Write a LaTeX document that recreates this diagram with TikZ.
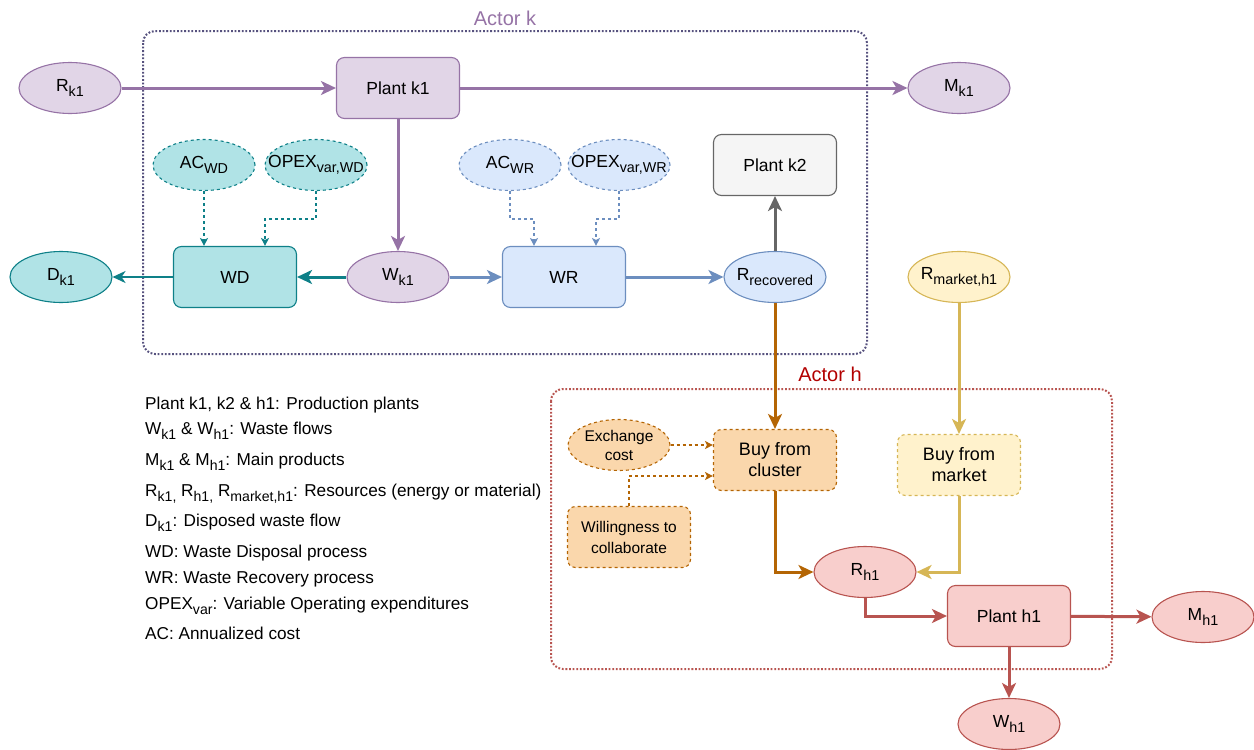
\documentclass[tikz,border=0pt]{standalone}
\usepackage{fontspec}
\setmainfont{Liberation Sans}
\usetikzlibrary{shapes.geometric,arrows.meta,calc}
\definecolor{pfill}{HTML}{E1D5E7}\definecolor{pline}{HTML}{9673A6}
\definecolor{tfill}{HTML}{B0E3E6}\definecolor{tline}{HTML}{0E8088}
\definecolor{bfill}{HTML}{DAE8FC}\definecolor{bline}{HTML}{6C8EBF}
\definecolor{gfill}{HTML}{F5F5F5}\definecolor{gline}{HTML}{666666}
\definecolor{yfill}{HTML}{FFF2CC}\definecolor{yline}{HTML}{D6B656}
\definecolor{ofill}{HTML}{FAD7AC}\definecolor{oline}{HTML}{B46504}
\definecolor{rfill}{HTML}{F8CECC}\definecolor{rline}{HTML}{B85450}
\definecolor{actkline}{HTML}{56517E}\definecolor{acthlabel}{HTML}{B20000}
\newcommand{\sbs}[1]{\raisebox{-0.3em}{\scalebox{0.82}{#1}}}
\tikzset{
  base/.style={font=\fontsize{17.5}{21}\selectfont, line width=1.1pt, inner sep=0pt, align=center},
  ell/.style={base, ellipse, minimum width=102pt, minimum height=51pt, inner xsep=-18pt, inner ysep=-7pt, draw},
  procbox/.style={base, rectangle, rounded corners=8pt, minimum width=123pt, minimum height=61pt, draw},
  dsh/.style={dash pattern=on 3pt off 3pt},
  bigarrow/.style={line width=3pt, -{Stealth[length=15pt,width=14pt,inset=4pt]}},
  midarrow/.style={line width=2pt, -{Stealth[length=13pt,width=12pt,inset=4pt]}},
  smallarrow/.style={line width=1.2pt, dsh, -{Stealth[length=8pt,width=8pt,inset=2pt]}},
  actorbox/.style={line width=2pt, dash pattern=on 1.8pt off 1.8pt, rounded corners=12pt},
  legend/.style={font=\fontsize{17.2}{20}\selectfont, anchor=base west, inner sep=0pt}
}
\begin{document}
\begin{tikzpicture}[x=1pt,y=-1pt]
\useasboundingbox (0,0) rectangle (1254,750);
% actor boxes
\draw[actorbox, actkline] (143,31) rectangle (867,354);
\node[font=\fontsize{20}{24}\selectfont, text=pline] (labk) at (505,18) {Actor k};
\draw[actorbox, rline] (551,389) rectangle (1112,669);
\node[font=\fontsize{20}{24}\selectfont, text=acthlabel] (labh) at (830,374) {Actor h};

% actor k nodes
\node[ell, fill=pfill, draw=pline] (rk1) at (70,88) {R\sbs{k1}};
\node[procbox, fill=pfill, draw=pline] (plk1) at (398,88) {Plant k1};
\node[ell, fill=pfill, draw=pline] (mk1) at (959,88) {M\sbs{k1}};
\node[ell, dsh, fill=tfill, draw=tline] (acwd) at (204,165) {AC\sbs{WD}};
\node[ell, dsh, fill=tfill, draw=tline] (opwd) at (316,165) {OPEX\sbs{var,WD}};
\node[procbox, fill=tfill, draw=tline] (wd) at (235,277) {WD};
\node[ell, fill=tfill, draw=tline] (dk1) at (61,277) {D\sbs{k1}};
\node[ell, fill=pfill, draw=pline] (wk1) at (398,277) {W\sbs{k1}};
\node[ell, dsh, fill=bfill, draw=bline] (acwr) at (510,165) {AC\sbs{WR}};
\node[ell, dsh, fill=bfill, draw=bline] (opwr) at (619,165) {OPEX\sbs{var,WR}};
\node[procbox, fill=bfill, draw=bline] (wr) at (564,277) {WR};
\node[procbox, fill=gfill, draw=gline] (plk2) at (775,165) {Plant k2};
\node[ell, fill=bfill, draw=bline] (rrec) at (775,277) {R\sbs{recovered}};
\node[ell, fill=yfill, draw=yline] (rmk) at (959,277) {R\sbs{market,h1}};

% actor h nodes
\node[ell, dsh, fill=ofill, draw=oline, font=\fontsize{15.5}{19}\selectfont] (exc) at (619,445) {Exchange\\cost};
\node[procbox, dsh, fill=ofill, draw=oline, font=\fontsize{18}{21}\selectfont] (bfc) at (775,460) {Buy from\\cluster};
\node[procbox, dsh, fill=ofill, draw=oline, font=\fontsize{15.5}{21}\selectfont] (will) at (629,537) {Willingness to\\collaborate};
\node[procbox, dsh, fill=yfill, draw=yline, font=\fontsize{18}{21}\selectfont] (bfm) at (959,465) {Buy from\\market};
\node[ell, fill=rfill, draw=rline] (rh1) at (865,572) {R\sbs{h1}};
\node[procbox, fill=rfill, draw=rline] (plh1) at (1009,616) {Plant h1};
\node[ell, fill=rfill, draw=rline] (mh1) at (1203,617) {M\sbs{h1}};
\node[ell, fill=rfill, draw=rline] (wh1) at (1009,724) {W\sbs{h1}};

% connectors actor k
\draw[bigarrow, pline] (rk1) -- (plk1);
\draw[bigarrow, pline] (plk1) -- (mk1);
\draw[bigarrow, pline] (plk1) -- (wk1);
\draw[bigarrow, tline] (wk1) -- (wd);
\draw[midarrow, tline] (wd) -- (dk1);
\draw[smallarrow, tline] (acwd.south) -- (acwd.south |- wd.north);
\draw[smallarrow, tline] (opwd.south) -- ++(0,28) -| ($(wd.north)+(30,0)$);
\draw[bigarrow, bline] (wk1) -- (wr);
\draw[smallarrow, bline] (acwr.south) -- ++(0,28) -| ($(wr.north)+(-30,0)$);
\draw[smallarrow, bline] (opwr.south) -- ++(0,28) -| ($(wr.north)+(32,0)$);
\draw[bigarrow, bline] (wr) -- (rrec);
\draw[bigarrow, gline] (rrec) -- (plk2);

% connectors actor h
\draw[bigarrow, oline] (rrec) -- (bfc);
\draw[smallarrow, oline] (exc.east) -- (exc.east -| bfc.west);
\draw[smallarrow, oline] (will.north) |- ($(bfc.west)+(0,16)$);
\draw[bigarrow, oline] (bfc.south) |- (rh1.west);
\draw[bigarrow, yline] (rmk) -- (bfm);
\draw[bigarrow, yline] (bfm.south) |- (rh1.east);
\draw[bigarrow, rline] (rh1.south) |- (plh1.west);
\draw[bigarrow, rline] (plh1) -- (mh1);
\draw[bigarrow, rline] (plh1) -- (wh1);

% legend
\node[legend] (l1) at (145,409) {Plant k1, k2 \& h1: Production plants};
\node[legend] (l2) at (145,434) {W\sbs{k1} \& W\sbs{h1}: Waste flows};
\node[legend] (l3) at (145,465) {M\sbs{k1} \& M\sbs{h1}: Main products};
\node[legend] (l4) at (145,496) {R\sbs{k1,} R\sbs{h1,} R\sbs{market,h1}: Resources (energy or material)};
\node[legend] (l5) at (145,526) {D\sbs{k1}: Disposed waste flow};
\node[legend] (l6) at (145,557) {WD: Waste Disposal process};
\node[legend] (l7) at (145,583) {WR: Waste Recovery process};
\node[legend] (l8) at (145,609) {OPEX\sbs{var}: Variable Operating expenditures};
\node[legend] (l9) at (145,639) {AC: Annualized cost};
\end{tikzpicture}
\end{document}
